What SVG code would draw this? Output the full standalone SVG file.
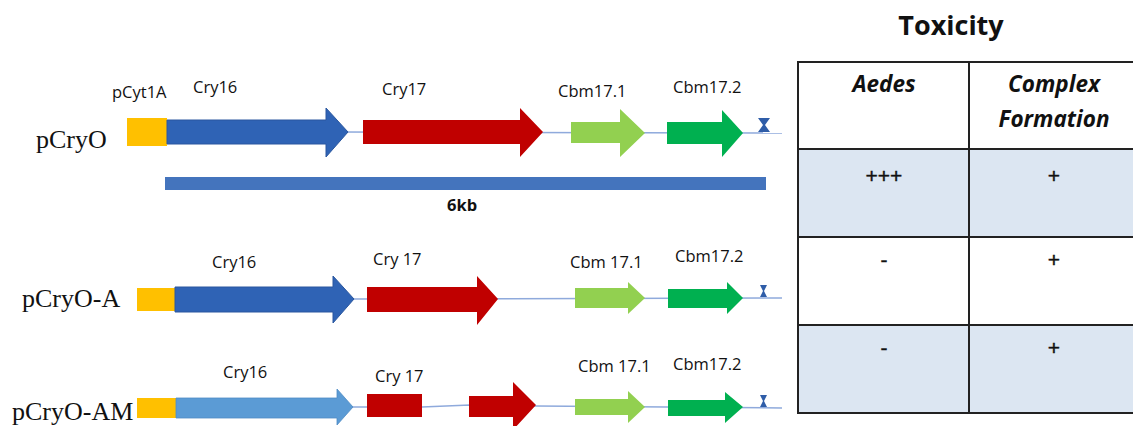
<svg xmlns="http://www.w3.org/2000/svg" width="1133" height="426" viewBox="0 0 1133 426">
<style>
.lbl{font-family:"Open Sans","Liberation Sans",sans-serif;font-size:16.5px;fill:#111}
.name{font-family:"Liberation Serif","Times New Roman",serif;font-size:26px;fill:#111}
.bb{font-family:"Open Sans","Liberation Sans",sans-serif;font-weight:bold;fill:#111}
.hd{font-family:"Open Sans","Liberation Sans",sans-serif;font-weight:bold;font-style:italic;font-size:22.5px;fill:#111;text-anchor:middle}
.cv{font-family:"Liberation Sans",Arial,sans-serif;font-size:21px;fill:#111;stroke:#111;stroke-width:0.4;text-anchor:middle}
.prom{fill:#FFC000}
.blue{fill:#2F63B5;stroke:#2A579F;stroke-width:1}
.lblue{fill:#5B9BD5;stroke:#4F8BC4;stroke-width:0.8}
.red{fill:#C00000}
.lgreen{fill:#92D050}
.dgreen{fill:#00B050}
.term{fill:#2F5DA8}
.bb6{fill:#4474BD}
.bk{stroke:#8FAADC;stroke-width:1.5;fill:none}
.cell{fill:#DCE6F2}
.grid{stroke:#222;stroke-width:2;fill:none}
</style>

<g id="connectors">
  <line class="bk" x1="340" y1="132" x2="782" y2="133"/>
  <line class="bk" x1="350" y1="299" x2="782" y2="298"/>
  <polyline class="bk" points="350,407 422,407 470,405 536,406 782,408"/>
</g>

<g id="row-pCryO">
  <text class="name" x="36" y="148">pCryO</text>
  <text class="lbl" x="112" y="98">pCyt1A</text>
  <text class="lbl" x="193" y="93">Cry16</text>
  <text class="lbl" x="382" y="95">Cry17</text>
  <text class="lbl" x="558" y="97">Cbm17.1</text>
  <text class="lbl" x="673" y="93">Cbm17.2</text>
  <rect class="prom" x="127" y="118" width="40" height="28"/>
  <polygon class="blue" points="167,120 326,120 326,108 348,132 326,157 326,144 167,144"/>
  <polygon class="red" points="363,120 520,120 520,108 543,132 520,157 520,144 363,144"/>
  <polygon class="lgreen" points="571,122 620,122 620,109 645,133 620,157 620,143 571,143"/>
  <polygon class="dgreen" points="667,122 722,122 722,110 743,133 722,157 722,144 667,144"/>
  <polygon class="term" points="758,118 770,118 765,125 770,132 758,132 763,125"/>
</g>

<g id="scale-6kb">
  <rect class="bb6" x="165" y="177" width="601" height="13"/>
  <text class="bb" x="447" y="211" font-size="16.5">6kb</text>
</g>

<g id="row-pCryO-A">
  <text class="name" x="22" y="307">pCryO-A</text>
  <text class="lbl" x="212" y="268">Cry16</text>
  <text class="lbl" x="373" y="265">Cry 17</text>
  <text class="lbl" x="570" y="268">Cbm 17.1</text>
  <text class="lbl" x="675" y="262">Cbm17.2</text>
  <rect class="prom" x="137" y="288" width="38" height="23"/>
  <polygon class="blue" points="175,287 333,287 333,276 354,299 333,323 333,312 175,312"/>
  <polygon class="red" points="367,287 477,287 477,276 498,299 477,325 477,312 367,312"/>
  <polygon class="lgreen" points="575,288 628,288 628,282 645,298 628,314 628,308 575,308"/>
  <polygon class="dgreen" points="668,289 727,289 727,282 743,298 727,314 727,308 668,308"/>
  <polygon class="term" points="760,285 767,285 764,291 767,297 760,297 763,291"/>
</g>

<g id="row-pCryO-AM">
  <text class="name" x="12" y="420">pCryO-AM</text>
  <text class="lbl" x="223" y="378">Cry16</text>
  <text class="lbl" x="375" y="382">Cry 17</text>
  <text class="lbl" x="578" y="372">Cbm 17.1</text>
  <text class="lbl" x="673" y="370">Cbm17.2</text>
  <rect class="prom" x="137" y="398" width="39" height="20"/>
  <polygon class="lblue" points="176,398 337,398 337,389 353,407 337,425 337,418 176,418"/>
  <rect class="red" x="367" y="394" width="55" height="23"/>
  <polygon class="red" points="469,396 513,396 513,382 536,405 513,430 513,417 469,417"/>
  <polygon class="lgreen" points="575,399 628,399 628,391 645,407 628,423 628,415 575,415"/>
  <polygon class="dgreen" points="668,400 725,400 725,392 743,407 725,423 725,416 668,416"/>
  <polygon class="term" points="760,395 767,395 764,401 767,407 760,407 763,401"/>
</g>

<g id="toxicity-table">
  <text class="bb" x="951" y="35" font-size="27" text-anchor="middle">Toxicity</text>
  <rect class="cell" x="798" y="149" width="345" height="88"/>
  <rect class="cell" x="798" y="325" width="345" height="88"/>
  <rect class="grid" x="798" y="62" width="345" height="351"/>
  <line class="grid" x1="969" y1="62" x2="969" y2="413"/>
  <line class="grid" x1="798" y1="149" x2="1143" y2="149"/>
  <line class="grid" x1="798" y1="237" x2="1143" y2="237"/>
  <line class="grid" x1="798" y1="325" x2="1143" y2="325"/>
  <text class="hd" x="884" y="92">Aedes</text>
  <text class="hd" x="1054" y="92">Complex</text>
  <text class="hd" x="1054" y="127">Formation</text>
  <text class="cv" x="884" y="183">+++</text>
  <text class="cv" x="1054" y="183">+</text>
  <text class="cv" x="884" y="267">-</text>
  <text class="cv" x="1054" y="267">+</text>
  <text class="cv" x="884" y="355">-</text>
  <text class="cv" x="1054" y="355">+</text>
</g>
</svg>
